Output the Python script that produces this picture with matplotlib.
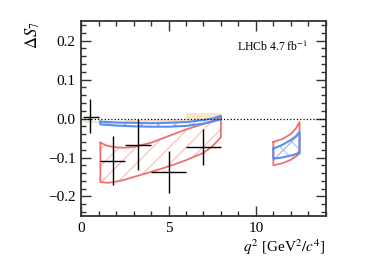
import numpy as np
import matplotlib
matplotlib.use("Agg")
import matplotlib.pyplot as plt
from matplotlib.ticker import MultipleLocator

plt.rcParams['font.family'] = ['Liberation Serif', 'DejaVu Serif']
plt.rcParams['mathtext.fontset'] = 'stix'
plt.rcParams['hatch.linewidth'] = 0.7

# Measured Delta S7 per q2 bin
bin_lo = [0.1, 1.1, 2.5, 4.0, 6.0]
bin_hi = [1.0, 2.5, 4.0, 6.0, 8.0]
q2_pts = [0.51, 1.81, 3.24, 5.0, 6.99]
s7_val = [0.004, -0.108, -0.067, -0.137, -0.074]
s7_up = [0.045, 0.064, 0.067, 0.053, 0.046]
s7_dn = [0.040, 0.063, 0.066, 0.053, 0.046]

# SM-like prediction boxes (orange)
or_min = [-0.012, -0.014, -0.014, -0.012, -0.004]
or_max = [-0.006, -0.008, -0.003, 0.000, 0.013]

# red band, low q2 and high q2
q_red = [1.1, 1.5, 2.0, 2.5, 3.0, 4.0, 5.0, 6.0, 7.0, 7.5, 8.0]
red_up = [-0.062, -0.070, -0.074, -0.075, -0.073, -0.062, -0.045, -0.028, -0.014, -0.006, 0.003]
red_dn = [-0.163, -0.165, -0.162, -0.157, -0.150, -0.137, -0.123, -0.107, -0.088, -0.072, -0.048]
q_red2 = [11.0, 11.5, 12.0, 12.3, 12.5]
red_up2 = [-0.060, -0.053, -0.040, -0.025, -0.009]
red_dn2 = [-0.120, -0.115, -0.106, -0.097, -0.090]

# blue band, low q2 and high q2
q_blue = [1.1, 2.0, 3.0, 4.0, 5.0, 6.0, 7.0, 7.5, 8.0]
blue_up = [-0.008, -0.010, -0.011, -0.012, -0.011, -0.009, -0.004, 0.000, 0.007]
blue_dn = [-0.015, -0.018, -0.020, -0.021, -0.021, -0.019, -0.013, -0.008, -0.002]
q_blue2 = [11.0, 11.5, 12.0, 12.3, 12.5]
blue_up2 = [-0.077, -0.068, -0.055, -0.045, -0.034]
blue_dn2 = [-0.103, -0.100, -0.095, -0.091, -0.088]

RED = '#f07070'
RED_H = '#f7b0b0'
BLUE = '#5a8ef0'
BLUE_H = '#9dbdf5'


def band(ax, q, lo, hi, edge, hatch_col, hatch, lw=1.3):
    """Hatched band with a solid outline"""
    ax.fill_between(q, lo, hi, facecolor='none', edgecolor=hatch_col,
                    hatch=hatch, linewidth=0)
    xs = list(q) + list(q[::-1]) + [q[0]]
    ys = list(hi) + list(lo[::-1]) + [hi[0]]
    ax.plot(xs, ys, color=edge, lw=lw)


fig = plt.figure(figsize=(3.74, 2.64), dpi=100)
ax = fig.add_axes([0.217, 0.182, 0.654, 0.738])

for lo, hi, a, b in zip(bin_lo, bin_hi, or_min, or_max):
    ax.fill_between([lo, hi], [a, a], [b, b], color='#fbd9b0', alpha=0.7, lw=0)

band(ax, q_red, red_dn, red_up, RED, RED_H, '//')
band(ax, q_red2, red_dn2, red_up2, RED, RED_H, '//')
band(ax, q_blue, blue_dn, blue_up, BLUE, BLUE_H, 'xx', lw=1.5)
band(ax, q_blue2, blue_dn2, blue_up2, BLUE, BLUE_H, 'xx', lw=1.5)

ax.axhline(0, color='black', ls=':', lw=0.9)

xerr = [np.array(q2_pts) - np.array(bin_lo), np.array(bin_hi) - np.array(q2_pts)]
ax.errorbar(q2_pts, s7_val, xerr=xerr, yerr=[s7_dn, s7_up], fmt='none',
            ecolor='black', elinewidth=1.0, capsize=0)

ax.set_xlim(0, 14)
ax.set_ylim(-0.25, 0.25)
ax.xaxis.set_major_locator(MultipleLocator(5))
ax.xaxis.set_minor_locator(MultipleLocator(1))
ax.yaxis.set_major_locator(MultipleLocator(0.1))
ax.yaxis.set_minor_locator(MultipleLocator(0.02))
ax.tick_params(which='both', direction='in', top=True, right=True,
               labelsize=11, width=1.0, color='#333333')
ax.tick_params(which='major', length=7, pad=4)
ax.tick_params(which='minor', length=3.5)
for s in ax.spines.values():
    s.set_linewidth(1.3)
    s.set_color('#333333')

ax.set_xlabel(r'$q^2$ [GeV$^2/c^4$]', fontsize=11, loc='right', labelpad=2)
ax.set_ylabel(r'$\Delta S_7$', fontsize=12, loc='top', labelpad=4)
ax.text(12.95, 0.185, r'LHCb 4.7 fb$^{-1}$', fontsize=8.5, ha='right', va='center')

fig.savefig('out.png', dpi=100)
